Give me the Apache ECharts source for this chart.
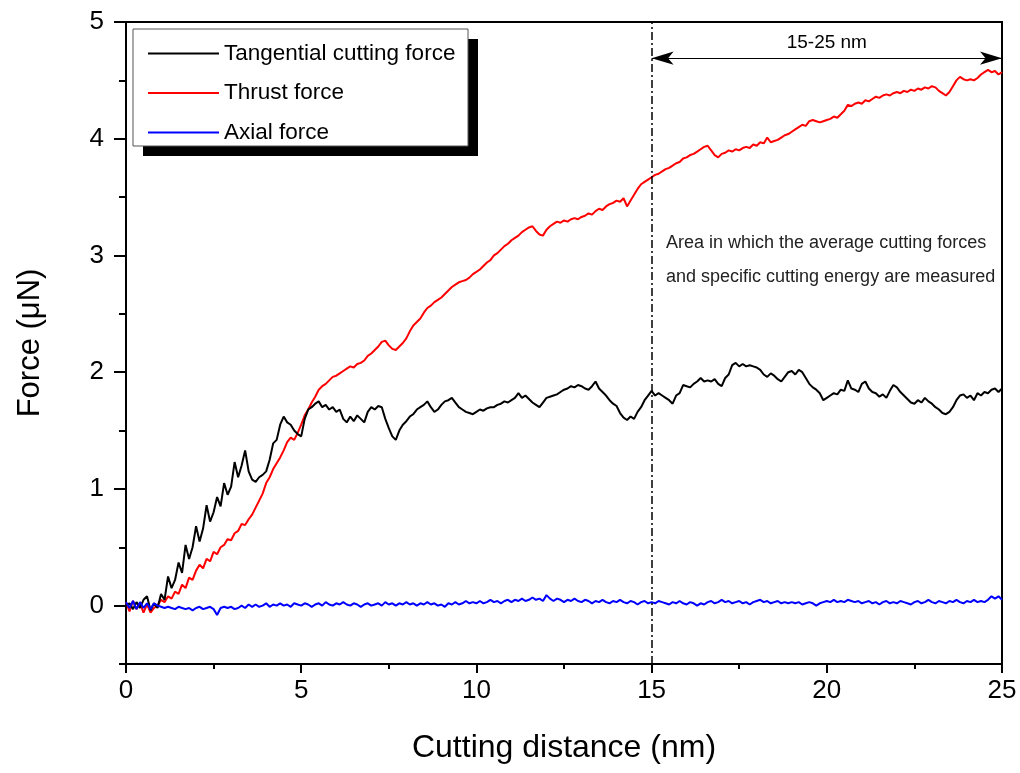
<!DOCTYPE html>
<html>
<head>
<meta charset="utf-8">
<script src="https://cdn.jsdelivr.net/npm/echarts@6/dist/echarts.min.js"></script>
<style>
html,body{margin:0;padding:0;background:#fff;}
#chart{width:1020px;height:773px;}
</style>
</head>
<body>
<div id="chart"></div>
<script>
// Sampling step of cutting distance (nm) for all series
const STEP = 0.1;
const seriesNames = ['Tangential cutting force', 'Thrust force', 'Axial force'];
const seriesColors = ['#000000', '#ff0000', '#0000ff'];
const xTickValues = [0, 5, 10, 15, 20, 25];
const yTickValues = [0, 1, 2, 3, 4, 5];
const regionStart = 15;
const regionEnd = 25;
const arrowY = 4.69;
const regionLabel = '15-25 nm';
const noteLines = ['Area in which the average cutting forces', 'and specific cutting energy are measured'];

const tangential = [
 0.00,0.02,-0.03,0.03,-0.02,0.05,0.08,-0.04,0.02,-0.02,
 0.10,0.05,0.25,0.15,0.22,0.37,0.28,0.52,0.40,0.50,
 0.68,0.55,0.66,0.86,0.72,0.80,0.93,0.85,1.05,0.95,
 1.02,1.23,1.10,1.20,1.33,1.15,1.08,1.06,1.10,1.12,
 1.15,1.25,1.39,1.42,1.55,1.62,1.57,1.55,1.50,1.47,
 1.45,1.60,1.68,1.70,1.73,1.75,1.70,1.72,1.68,1.70,
 1.66,1.68,1.60,1.57,1.62,1.58,1.63,1.60,1.57,1.66,
 1.70,1.68,1.71,1.70,1.60,1.52,1.45,1.42,1.50,1.55,
 1.58,1.62,1.64,1.68,1.70,1.72,1.75,1.70,1.66,1.68,
 1.72,1.75,1.76,1.78,1.74,1.70,1.68,1.66,1.65,1.64,
 1.66,1.68,1.67,1.69,1.70,1.70,1.72,1.73,1.75,1.74,
 1.76,1.78,1.82,1.78,1.80,1.77,1.74,1.72,1.70,1.74,
 1.78,1.79,1.80,1.81,1.83,1.85,1.86,1.88,1.87,1.89,
 1.88,1.86,1.85,1.88,1.92,1.86,1.83,1.80,1.76,1.73,
 1.71,1.65,1.61,1.59,1.62,1.60,1.66,1.70,1.76,1.80,
 1.84,1.80,1.82,1.80,1.78,1.76,1.73,1.80,1.82,1.89,
 1.88,1.87,1.90,1.92,1.95,1.92,1.93,1.92,1.94,1.90,
 1.88,1.95,1.98,2.06,2.08,2.05,2.07,2.05,2.06,2.05,
 2.04,2.02,1.98,1.96,1.99,1.97,1.94,1.92,1.96,2.00,
 2.01,1.98,2.02,2.00,1.95,1.90,1.87,1.85,1.82,1.76,
 1.78,1.80,1.82,1.81,1.85,1.84,1.93,1.86,1.85,1.83,
 1.90,1.92,1.86,1.83,1.82,1.79,1.81,1.78,1.84,1.89,
 1.87,1.83,1.80,1.77,1.74,1.73,1.76,1.74,1.78,1.75,
 1.73,1.70,1.68,1.65,1.64,1.66,1.70,1.76,1.80,1.81,
 1.78,1.80,1.76,1.82,1.80,1.83,1.82,1.85,1.86,1.83,
 1.86
];

const thrust = [
 0.03,-0.05,0.04,-0.03,0.02,-0.06,0.01,-0.06,-0.02,0.00,
 0.05,0.03,0.08,0.06,0.12,0.10,0.18,0.15,0.24,0.22,
 0.30,0.35,0.32,0.40,0.38,0.46,0.44,0.50,0.52,0.57,
 0.56,0.62,0.64,0.70,0.69,0.74,0.78,0.84,0.90,0.96,
 1.05,1.10,1.17,1.22,1.27,1.33,1.40,1.44,1.42,1.48,
 1.55,1.63,1.68,1.74,1.79,1.85,1.88,1.90,1.93,1.96,
 1.97,1.99,2.01,2.03,2.05,2.04,2.07,2.08,2.10,2.14,
 2.16,2.19,2.22,2.26,2.27,2.23,2.20,2.19,2.22,2.25,
 2.29,2.35,2.40,2.43,2.46,2.51,2.55,2.57,2.60,2.62,
 2.64,2.67,2.70,2.73,2.75,2.77,2.78,2.79,2.81,2.84,
 2.86,2.88,2.91,2.94,2.96,3.00,3.02,3.05,3.08,3.10,
 3.13,3.15,3.17,3.20,3.22,3.24,3.25,3.21,3.18,3.17,
 3.22,3.25,3.27,3.29,3.28,3.30,3.29,3.31,3.32,3.31,
 3.33,3.34,3.36,3.35,3.38,3.40,3.39,3.42,3.44,3.45,
 3.47,3.46,3.49,3.42,3.47,3.52,3.57,3.61,3.63,3.65,
 3.67,3.69,3.70,3.72,3.74,3.75,3.77,3.79,3.80,3.83,
 3.84,3.86,3.87,3.89,3.91,3.93,3.94,3.90,3.86,3.84,
 3.87,3.88,3.90,3.89,3.91,3.90,3.92,3.93,3.92,3.95,
 3.94,3.97,3.96,4.01,3.97,3.98,3.99,4.01,4.03,4.04,
 4.06,4.08,4.10,4.12,4.11,4.15,4.16,4.15,4.14,4.15,
 4.16,4.17,4.19,4.18,4.21,4.24,4.29,4.28,4.30,4.31,
 4.30,4.33,4.32,4.34,4.36,4.35,4.37,4.38,4.37,4.39,
 4.40,4.39,4.41,4.40,4.42,4.41,4.43,4.42,4.44,4.43,
 4.45,4.44,4.41,4.39,4.37,4.40,4.45,4.50,4.53,4.51,
 4.50,4.51,4.50,4.52,4.55,4.57,4.59,4.57,4.58,4.55,
 4.57
];

const axial = [
 0.03,-0.02,0.04,-0.03,0.03,-0.02,0.02,-0.03,0.02,0.00,
 -0.01,-0.02,-0.01,-0.02,-0.03,-0.01,-0.02,-0.03,-0.02,-0.04,
 -0.02,-0.01,-0.03,-0.02,-0.01,-0.03,-0.08,-0.02,-0.01,-0.02,
 -0.01,-0.03,-0.02,0.00,-0.02,0.01,-0.01,0.01,-0.01,0.00,
 0.02,-0.01,0.01,0.00,0.02,0.00,0.01,-0.01,0.02,0.01,
 0.00,0.02,0.01,-0.01,0.01,0.02,0.00,0.03,0.01,0.00,
 0.02,0.01,0.03,0.01,0.00,0.02,0.01,-0.01,0.01,0.02,
 0.00,0.01,0.02,0.00,0.03,0.01,0.02,0.00,0.02,0.01,
 0.03,0.01,0.02,0.00,0.02,0.01,0.03,0.01,0.02,0.00,
 0.01,-0.01,0.02,0.01,0.03,0.01,0.02,0.04,0.02,0.03,
 0.02,0.04,0.02,0.03,0.05,0.03,0.04,0.02,0.04,0.05,
 0.03,0.05,0.04,0.06,0.04,0.05,0.07,0.05,0.06,0.04,
 0.09,0.06,0.04,0.06,0.05,0.03,0.05,0.04,0.06,0.04,
 0.03,0.05,0.04,0.02,0.04,0.03,0.05,0.03,0.02,0.04,
 0.03,0.05,0.03,0.02,0.04,0.03,0.01,0.03,0.04,0.02,
 0.03,0.02,0.04,0.03,0.02,0.01,0.03,0.02,0.04,0.02,
 0.01,0.03,0.02,0.00,0.02,0.01,0.03,0.04,0.02,0.03,
 0.05,0.03,0.04,0.02,0.03,0.04,0.02,0.03,0.01,0.03,
 0.04,0.05,0.03,0.04,0.02,0.03,0.04,0.02,0.03,0.02,
 0.03,0.02,0.03,0.01,0.02,0.03,0.02,0.00,0.02,0.03,
 0.04,0.03,0.05,0.03,0.04,0.03,0.05,0.04,0.03,0.04,
 0.02,0.03,0.04,0.02,0.03,0.01,0.03,0.04,0.02,0.03,
 0.02,0.04,0.03,0.02,0.01,0.03,0.04,0.02,0.03,0.05,
 0.03,0.02,0.04,0.03,0.02,0.04,0.03,0.05,0.03,0.02,
 0.04,0.03,0.05,0.03,0.04,0.03,0.05,0.08,0.06,0.08,
 0.05
];

function toPairs(values) {
  return values.map((v, i) => [Math.round(i * STEP * 100) / 100, v]);
}

const FONT = "'Liberation Sans', Arial, sans-serif";

const chart = echarts.init(document.getElementById('chart'), null, {renderer: 'canvas'});

const option = {
  animation: false,
  backgroundColor: '#fff',
  grid: {left: 126, right: 18, top: 22, bottom: 109, outerBoundsMode: 'none', containLabel: false,
    show: true, borderColor: '#000', borderWidth: 2, backgroundColor: 'transparent'},
  legend: {
    data: seriesNames,
    orient: 'vertical',
    left: 148, top: 42,
    padding: 0,
    icon: 'rect',
    itemWidth: 71, itemHeight: 2, itemGap: 16.5,
    textStyle: {fontFamily: FONT, fontSize: 22.5, color: '#000', lineHeight: 22},
    z: 20
  },
  graphic: [
    {type: 'rect', z: 15, shape: {x: 143, y: 39, width: 335, height: 117}, style: {fill: '#000'}},
    {type: 'rect', z: 16, shape: {x: 133, y: 29, width: 335, height: 117}, style: {fill: '#fff', stroke: '#555', lineWidth: 1}},
    {type: 'text', z: 16, x: 666, y: 243, style: {text: noteLines[0], font: '18px ' + FONT, fill: '#222', verticalAlign: 'middle'}},
    {type: 'text', z: 16, x: 666, y: 277, style: {text: noteLines[1], font: '18px ' + FONT, fill: '#222', verticalAlign: 'middle'}}
  ],
  xAxis: {
    type: 'value', min: 0, max: 25, interval: 5,
    name: 'Cutting distance (nm)', nameLocation: 'middle', nameGap: 68,
    nameTextStyle: {fontFamily: FONT, fontSize: 32, color: '#000'},
    axisLine: {show: true, onZero: false, lineStyle: {color: '#000', width: 2}},
    axisTick: {show: true, inside: false, length: 9, lineStyle: {color: '#000', width: 2}},
    minorTick: {show: true, splitNumber: 2, length: 5, lineStyle: {color: '#000', width: 2}},
    axisLabel: {margin: 14, fontFamily: FONT, fontSize: 26, color: '#000',
      customValues: xTickValues},
    splitLine: {show: false}
  },
  yAxis: [
    {
      type: 'value', min: -0.5, max: 5, interval: 0.5,
      name: 'Force (\u03bcN)', nameLocation: 'middle', nameGap: 80, nameRotate: 90,
      nameTextStyle: {fontFamily: FONT, fontSize: 31, color: '#000'},
      axisLine: {show: true, onZero: false, lineStyle: {color: '#000', width: 2}},
      axisTick: {show: true, inside: false, length: 12, lineStyle: {color: '#000', width: 2}, customValues: yTickValues},
      axisLabel: {margin: 22, fontFamily: FONT, fontSize: 26, color: '#000', customValues: yTickValues},
      splitLine: {show: false}
    },
    {
      type: 'value', min: -0.5, max: 5, interval: 0.5, position: 'left',
      axisLine: {show: false},
      axisTick: {show: true, inside: false, length: 7, lineStyle: {color: '#000', width: 2}},
      axisLabel: {show: false},
      splitLine: {show: false}
    }
  ],
  series: [
    {
      name: seriesNames[0], type: 'line', data: toPairs(tangential), symbol: 'none',
      lineStyle: {color: seriesColors[0], width: 2}, itemStyle: {color: seriesColors[0]}, z: 3
    },
    {
      name: seriesNames[1], type: 'line', data: toPairs(thrust), symbol: 'none',
      lineStyle: {color: seriesColors[1], width: 2}, itemStyle: {color: seriesColors[1]}, z: 2,
      markLine: {
        silent: true, symbol: ['arrow', 'arrow'], symbolSize: [10, 22],
        lineStyle: {color: '#000', width: 1.2, type: 'solid'},
        label: {show: true, position: 'middle', formatter: regionLabel, fontFamily: FONT, fontSize: 19, color: '#000', distance: 6},
        data: [[{coord: [regionStart, arrowY]}, {coord: [regionEnd, arrowY]}]]
      }
    },
    {
      name: seriesNames[2], type: 'line', data: toPairs(axial), symbol: 'none',
      lineStyle: {color: seriesColors[2], width: 2}, itemStyle: {color: seriesColors[2]}, z: 4,
      markLine: {
        silent: true, symbol: 'none',
        lineStyle: {color: '#000', width: 1.5, type: [8, 3, 2, 3]},
        label: {show: false},
        data: [{xAxis: regionStart}]
      }
    }
  ]
};
chart.setOption(option);
</script>
</body>
</html>
